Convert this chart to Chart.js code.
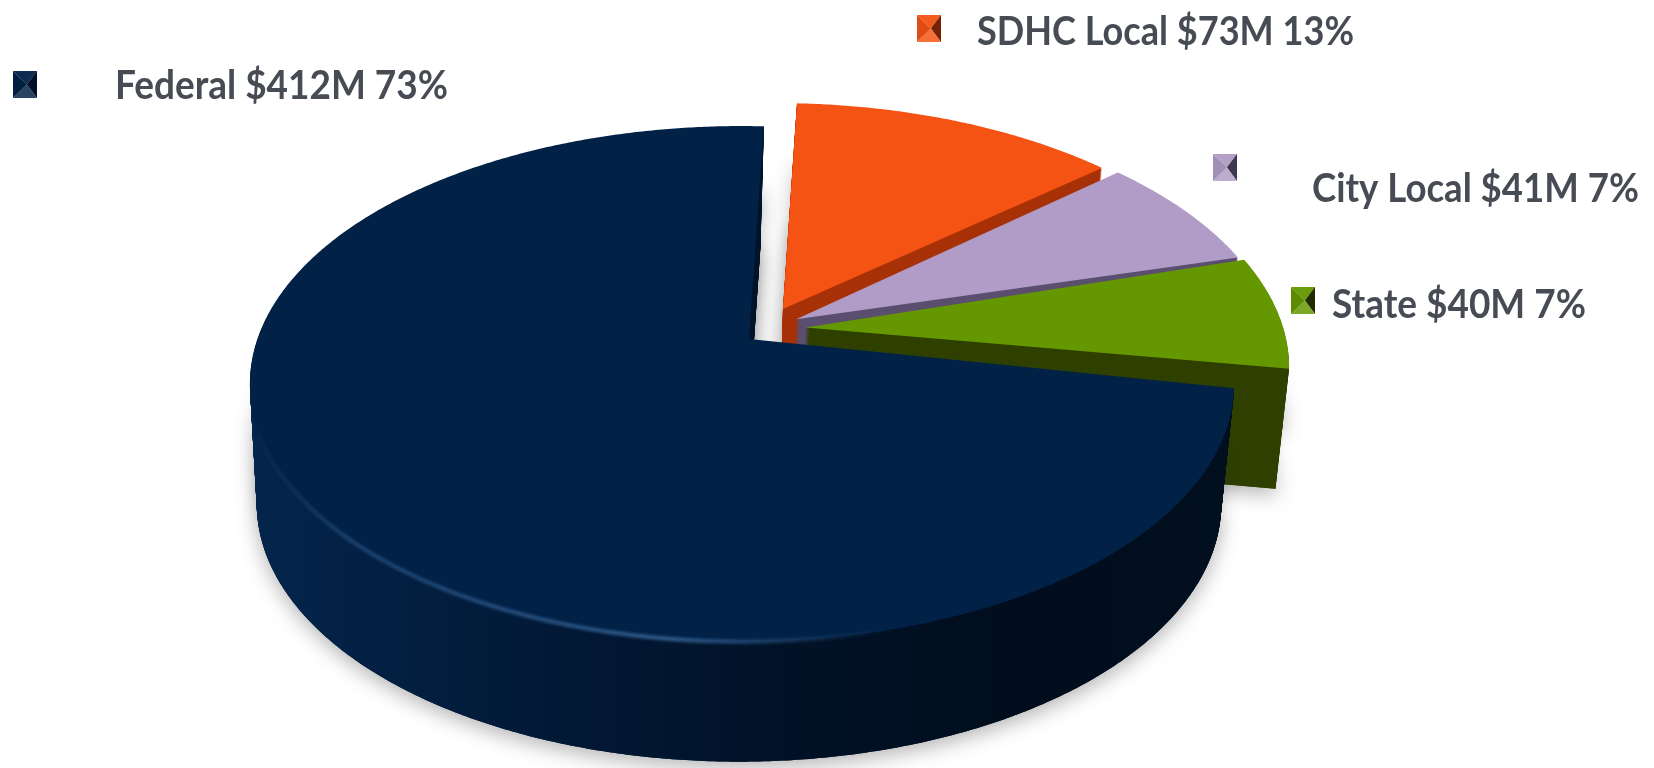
<!DOCTYPE html>
<html>
<head>
<meta charset="utf-8">
<title>Funding sources</title>
<script src="https://cdn.jsdelivr.net/npm/chart.js@4/dist/chart.umd.js"></script>
<style>
    body { margin: 0; background: #fff; }
    canvas { display: block; }
</style>
</head>
<body>
<canvas id="chart" width="1654" height="768"></canvas>
<script>
var categories = ['Federal', 'SDHC Local', 'City Local', 'State'];
var dollars = [412, 73, 41, 40];
var percents = [73, 13, 7, 7];

var sliceColors = ['#012146', '#f55314', '#b09cc6', '#649700'];
var wallColors = ['#02173a', '#a83208', '#5b4f70', '#2f4000'];

// where each legend entry sits: marker x, marker y, text x, baseline, text width
var legendSpots = [
    [13, 71, 115, 99, 333],
    [917, 15, 977, 45, 377],
    [1213, 154, 1312, 202, 327],
    [1291, 287, 1332, 318, 254]
];

// the tilted disc
var disc = { x: 752, y: 339, a: 484.6, b: 250, k: 0.174, depth: 120, shrink: 0.98 };
// small pixel corrections per slice, the original is not a clean projection
var sliceShift = [[-10, 0], [2, -4], [1, -12], [8, -19]];
var tipShift = [[7, 0], [4, 0], [3, 3], [9, 8]];

function project(u, v, z, index) {
    var w = 1 + disc.k * v;
    var s = 1 - (1 - disc.shrink) * z;
    return {
        x: disc.x + sliceShift[index][0] - 3 * z + disc.a * u / w * s,
        y: disc.y + sliceShift[index][1] - disc.b * v / w + disc.depth * z
    };
}

function sliceOutline(arc, index) {
    var p = arc.getProps(['startAngle', 'endAngle', 'outerRadius']);
    var mid = (p.startAngle + p.endAngle) / 2;
    var shift = arc.options.offset / p.outerRadius;
    var ox = Math.cos(mid) * shift;
    var oy = -Math.sin(mid) * shift;
    var pts = [[ox + tipShift[index][0] / disc.a, oy - tipShift[index][1] / disc.b]];
    var n = Math.ceil((p.endAngle - p.startAngle) / 0.008);
    for (var i = 0; i <= n; i++) {
        var t = p.startAngle + (p.endAngle - p.startAngle) * i / n;
        pts.push([ox + Math.cos(t), oy - Math.sin(t)]);
    }
    return pts;
}

function tracePath(ctx, pts, z, index) {
    ctx.beginPath();
    for (var i = 0; i < pts.length; i++) {
        var q = project(pts[i][0], pts[i][1], z, index);
        if (i === 0) ctx.moveTo(q.x, q.y);
        else ctx.lineTo(q.x, q.y);
    }
    ctx.closePath();
}

function federalWall(ctx) {
    var g = ctx.createLinearGradient(249, 0, 1225, 0);
    g.addColorStop(0, '#04254c');
    g.addColorStop(0.25, '#021b3a');
    g.addColorStop(0.5, '#01132a');
    g.addColorStop(0.8, '#010d1c');
    g.addColorStop(1, '#020f1e');
    return g;
}

function drawSlice(ctx, arc, index) {
    var pts = sliceOutline(arc, index);
    var wall = index === 0 ? federalWall(ctx) : wallColors[index];
    ctx.fillStyle = wall;

    // soft shadow under the block
    ctx.save();
    ctx.shadowColor = 'rgba(40,40,40,0.35)';
    ctx.shadowBlur = 20;
    ctx.shadowOffsetY = 6;
    tracePath(ctx, pts, 1, index);
    ctx.fill();
    tracePath(ctx, pts, 0.5, index);
    ctx.fill();
    ctx.restore();

    // side wall, stacked one pixel at a time
    for (var d = disc.depth; d > 0; d--) {
        tracePath(ctx, pts, d / disc.depth, index);
        ctx.fill();
    }

    ctx.fillStyle = arc.options.backgroundColor;
    tracePath(ctx, pts, 0, index);
    ctx.fill();
}

// lighter rim along the front left of the big slice
function drawRim(ctx, arc) {
    var p = arc.getProps(['startAngle']);
    var g = ctx.createLinearGradient(250, 0, 900, 0);
    g.addColorStop(0, 'rgba(45,90,140,0)');
    g.addColorStop(0.15, 'rgba(45,90,140,0.6)');
    g.addColorStop(0.65, 'rgba(55,100,150,0.9)');
    g.addColorStop(1, 'rgba(45,90,140,0)');
    ctx.save();
    ctx.filter = 'blur(1.5px)';
    ctx.strokeStyle = g;
    ctx.lineWidth = 4;
    ctx.beginPath();
    for (var i = 0; i < 260; i++) {
        var t = p.startAngle + i * 0.01;
        var q = project(Math.cos(t), -Math.sin(t), 0, 0);
        if (i === 0) ctx.moveTo(q.x, q.y);
        else ctx.lineTo(q.x, q.y);
    }
    ctx.stroke();
    ctx.restore();
}

function drawMarker(ctx, x, y, index) {
    var w = 24, h = 27;
    var cx = x + w * 0.58, cy = y + h / 2;
    // four faces of a little pyramid: top, right, bottom, left
    var faces = [
        [x, y, x + w, y, sliceColors[index], 'rgba(255,255,255,0.05)'],
        [x + w, y, x + w, y + h, wallColors[index], 'rgba(0,0,0,0.3)'],
        [x + w, y + h, x, y + h, sliceColors[index], 'rgba(255,255,255,0.16)'],
        [x, y + h, x, y, sliceColors[index], 'rgba(0,0,0,0.08)']
    ];
    ctx.save();
    ctx.filter = 'blur(0.7px)';
    for (var i = 0; i < faces.length; i++) {
        ctx.beginPath();
        ctx.moveTo(faces[i][0], faces[i][1]);
        ctx.lineTo(faces[i][2], faces[i][3]);
        ctx.lineTo(cx, cy);
        ctx.closePath();
        ctx.fillStyle = faces[i][4];
        ctx.fill();
        ctx.fillStyle = faces[i][5];
        ctx.fill();
    }
    ctx.restore();
}

var tiltedPie = {
    id: 'tiltedPie',
    beforeDatasetDraw: function (chart, args) {
        var ctx = chart.ctx;
        var arcs = args.meta.data;
        // back slices first, the big slice sits in front of them
        drawSlice(ctx, arcs[1], 1);
        drawSlice(ctx, arcs[2], 2);
        drawSlice(ctx, arcs[3], 3);
        drawSlice(ctx, arcs[0], 0);
        drawRim(ctx, arcs[0]);
        return false;
    },
    afterDraw: function (chart) {
        var ctx = chart.ctx;
        ctx.save();
        ctx.font = 'bold 41px Lato';
        ctx.textBaseline = 'alphabetic';
        for (var i = 0; i < categories.length; i++) {
            var s = legendSpots[i];
            drawMarker(ctx, s[0], s[1], i);
            ctx.fillStyle = '#474b54';
            ctx.fillText(categories[i] + ' $' + dollars[i] + 'M ' + percents[i] + '%', s[2], s[3], s[4]);
        }
        ctx.restore();
    }
};

new Chart(document.getElementById('chart').getContext('2d'), {
    type: 'pie',
    data: {
        labels: categories,
        datasets: [{
            data: dollars,
            backgroundColor: sliceColors,
            borderWidth: 0,
            offset: [0, 43, 34, 27]
        }]
    },
    options: {
        responsive: false,
        animation: false,
        rotation: 101,
        plugins: {
            legend: { display: false },
            tooltip: { enabled: false }
        }
    },
    plugins: [tiltedPie]
});
</script>
</body>
</html>
